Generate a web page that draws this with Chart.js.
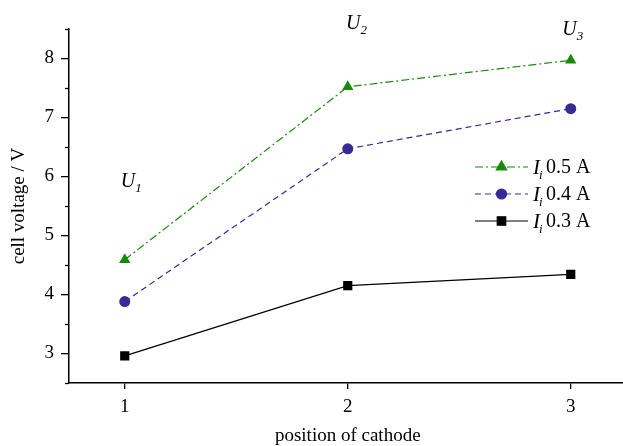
<!DOCTYPE html>
<html>
<head>
<meta charset="utf-8">
<script src="https://cdn.jsdelivr.net/npm/chart.js@4"></script>
<style>
  html, body { margin: 0; padding: 0; background: #fff; overflow: hidden; }
  #wrap { width: 633px; height: 446px; }
</style>
</head>
<body>
<div id="wrap"><canvas id="voltageChart"></canvas></div>
<script>
// Data
const positions = [1, 2, 3];
const current05 = [4.59, 7.52, 7.97];
const current04 = [3.88, 6.47, 7.15];
const current03 = [2.96, 4.15, 4.34];
const seriesLabels = ['0.5 A', '0.4 A', '0.3 A'];
const yMajorTicks = [3, 4, 5, 6, 7, 8];
const stageLabels = [
  { sub: '1', x: 1.02, y: 5.93 },
  { sub: '2', x: 2.03, y: 8.6 },
  { sub: '3', x: 3.0, y: 8.5 }
];

const serif = "'Liberation Serif', 'Times New Roman', serif";
const green = '#178a0a';
const blue = '#352a98';

function points(vals) {
  return positions.map((p, i) => ({ x: p, y: vals[i] }));
}

// minor ticks on the y axis + stage labels U1..U3
const extrasPlugin = {
  id: 'extras',
  afterDraw(chart) {
    const ctx = chart.ctx;
    const y = chart.scales.y;
    const x = chart.scales.x;
    ctx.save();
    ctx.strokeStyle = '#000';
    ctx.lineWidth = 1.3;
    for (let v = 2.5; v <= 8.5; v += 1) {
      const py = Math.round(y.getPixelForValue(v)) + 0.5;
      ctx.beginPath();
      ctx.moveTo(y.right - 4, py);
      ctx.lineTo(y.right, py);
      ctx.stroke();
    }
    ctx.fillStyle = '#000';
    ctx.textBaseline = 'alphabetic';
    stageLabels.forEach(s => {
      const px = x.getPixelForValue(s.x);
      const py = y.getPixelForValue(s.y);
      ctx.font = 'italic 20px ' + serif;
      ctx.textAlign = 'right';
      ctx.fillText('U', px + 6, py + 6);
      ctx.font = 'italic 13px ' + serif;
      ctx.textAlign = 'left';
      ctx.fillText(s.sub, px + 6, py + 11);
    });
    ctx.restore();
  }
};

// legend: line sample with marker, italic I with subscript i
const legendPlugin = {
  id: 'customLegend',
  afterDraw(chart) {
    const ctx = chart.ctx;
    const x0 = 475, x1 = 528, top = 167, gap = 27;
    ctx.save();
    chart.data.datasets.forEach((ds, i) => {
      const py = top + i * gap;
      ctx.strokeStyle = ds.borderColor;
      ctx.lineWidth = ds.borderWidth;
      ctx.setLineDash(ds.borderDash || []);
      ctx.beginPath();
      ctx.moveTo(x0, py);
      ctx.lineTo(x1, py);
      ctx.stroke();
      ctx.setLineDash([]);
      ctx.fillStyle = ds.backgroundColor;
      ctx.strokeStyle = ds.borderColor;
      Chart.helpers.drawPoint(ctx, {
        pointStyle: ds.pointStyle,
        radius: ds.pointRadius - 0.5,
        borderWidth: 1
      }, (x0 + x1) / 2, py);
      ctx.fillStyle = '#000';
      ctx.textBaseline = 'middle';
      ctx.textAlign = 'left';
      ctx.font = 'italic 21px ' + serif;
      ctx.fillText('I', 533, py + 1);
      ctx.font = 'italic 13px ' + serif;
      ctx.fillText('i', 539, py + 9);
      ctx.font = '20px ' + serif;
      ctx.fillText(seriesLabels[i], 546, py + 1);
    });
    ctx.restore();
  }
};

Chart.defaults.font.family = serif;
Chart.defaults.color = '#000';

new Chart(document.getElementById('voltageChart'), {
  type: 'line',
  data: {
    datasets: [
      {
        label: seriesLabels[0],
        data: points(current05),
        borderColor: green,
        backgroundColor: green,
        borderWidth: 1.2,
        borderDash: [8, 3, 2, 3],
        pointStyle: 'triangle',
        pointRadius: 6.5,
        pointBorderWidth: 0
      },
      {
        label: seriesLabels[1],
        data: points(current04),
        borderColor: blue,
        backgroundColor: blue,
        borderWidth: 1.2,
        borderDash: [6, 4],
        pointStyle: 'circle',
        pointRadius: 5.5,
        pointBorderWidth: 0
      },
      {
        label: seriesLabels[2],
        data: points(current03),
        borderColor: '#000',
        backgroundColor: '#000',
        borderWidth: 1.2,
        borderDash: [],
        pointStyle: 'rect',
        pointRadius: 6.5,
        pointBorderWidth: 0
      }
    ]
  },
  options: {
    responsive: true,
    maintainAspectRatio: false,
    animation: false,
    layout: { padding: { top: 29, left: 0, right: 0, bottom: 0 } },
    plugins: {
      legend: { display: false },
      tooltip: { enabled: false }
    },
    scales: {
      x: {
        type: 'linear',
        min: 0.75,
        max: 3.25,
        afterBuildTicks: s => { s.ticks = positions.map(v => ({ value: v })); },
        afterFit: s => { s.height = 63; },
        grid: {
          drawOnChartArea: false,
          tickLength: 6,
          color: '#000',
          lineWidth: 1.3
        },
        border: { color: '#000', width: 1.5 },
        ticks: { font: { size: 19 }, padding: 7, maxRotation: 0 },
        title: {
          display: true,
          text: 'position of cathode',
          font: { size: 19, lineHeight: 1 },
          padding: { top: 0, bottom: 0 }
        }
      },
      y: {
        min: 2.5,
        max: 8.5,
        afterBuildTicks: s => { s.ticks = yMajorTicks.map(v => ({ value: v })); },
        afterFit: s => { s.width = 69; },
        grid: {
          drawOnChartArea: false,
          tickLength: 8,
          color: '#000',
          lineWidth: 1.3
        },
        border: { color: '#000', width: 1.5 },
        ticks: { font: { size: 19 }, padding: 7 },
        title: {
          display: true,
          text: 'cell voltage / V',
          font: { size: 19 },
          padding: { top: 8, bottom: 0 }
        }
      }
    }
  },
  plugins: [extrasPlugin, legendPlugin]
});
</script>
</body>
</html>
